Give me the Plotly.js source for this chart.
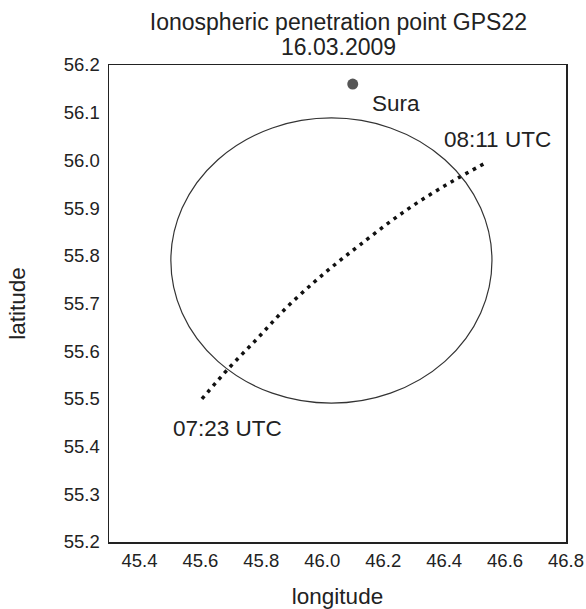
<!DOCTYPE html>
<html>
<head>
<meta charset="utf-8">
<script src="https://cdn.plot.ly/plotly-3.0.1.min.js"></script>
<style>html,body{margin:0;padding:0;background:#fff;}</style>
</head>
<body>
<div id="chart" style="width:586px;height:609px;"></div>
<script>
// Ionospheric penetration point track (longitude, latitude)
const trackLon = [45.605, 45.694, 45.786, 45.874, 45.970, 46.048, 46.124, 46.222, 46.321, 46.429, 46.537];
const trackLat = [55.500, 55.565, 55.626, 55.686, 55.743, 55.785, 55.823, 55.871, 55.915, 55.957, 55.995];
// Sura facility
const suraLon = [46.10];
const suraLat = [56.16];
// Circle bounds (lon0, lon1, lat0, lat1)
const circleLon = [45.503, 46.557];
const circleLat = [55.491, 56.089];
// Labels
const labelText = ["Sura", "08:11 UTC", "07:23 UTC"];
const labelLon = [46.157, 46.393, 45.503];
const labelLat = [56.12, 56.043, 55.437];
const titleLines = ["Ionospheric penetration point GPS22", "16.03.2009"];
const xTicks = [45.4, 45.6, 45.8, 46.0, 46.2, 46.4, 46.6, 46.8];
const yTicks = [55.2, 55.3, 55.4, 55.5, 55.6, 55.7, 55.8, 55.9, 56.0, 56.1, 56.2];

const fam = "Liberation Sans, Arial, sans-serif";
const tickFont = {family: fam, size: 18.5, color: "#222"};
const bigFont = {family: fam, size: 22.5, color: "#222"};
const titleFont = {family: fam, size: 23, color: "#222"};

const data = [
  {x: trackLon, y: trackLat, mode: "lines", type: "scatter",
   line: {color: "#111", width: 3.5, dash: "3.5px,5px", shape: "spline", smoothing: 1}, hoverinfo: "skip"},
  {x: suraLon, y: suraLat, mode: "markers", type: "scatter",
   marker: {color: "#555", size: 11}, hoverinfo: "skip"}
];

const annotations = labelText.map((t, i) => ({
  x: labelLon[i], y: labelLat[i], xref: "x", yref: "y", text: t,
  showarrow: false, xanchor: "left", yanchor: "middle", font: bigFont
}));
annotations.push({
  x: 0.502, y: 1.0377, xref: "paper", yref: "paper", text: titleLines[1],
  showarrow: false, xanchor: "center", yanchor: "middle", font: titleFont
});

const layout = {
  width: 586, height: 609,
  margin: {l: 109, r: 20, t: 65, b: 67},
  paper_bgcolor: "#fff", plot_bgcolor: "#fff",
  showlegend: false,
  font: tickFont,
  title: {text: titleLines[0], font: titleFont,
          xref: "paper", x: 0.502, xanchor: "center",
          yref: "container", y: 0.9639, yanchor: "middle"},
  xaxis: {range: [45.3, 46.8], tickvals: xTicks, ticktext: xTicks.map(v => v.toFixed(1)),
          showgrid: false, zeroline: false, showline: true, mirror: true,
          linecolor: "#222", linewidth: 1.5, ticks: "", tickfont: tickFont, ticklabelstandoff: 1,
          title: {text: "longitude", font: bigFont, standoff: 18}},
  yaxis: {range: [55.2, 56.2], tickvals: yTicks, ticktext: yTicks.map(v => v.toFixed(1)),
          showgrid: false, zeroline: false, showline: true, mirror: true,
          linecolor: "#222", linewidth: 1.5, ticks: "", tickfont: tickFont, ticklabelstandoff: 4,
          title: {text: "latitude", font: bigFont, standoff: 32}},
  shapes: [{type: "circle", xref: "x", yref: "y",
            x0: circleLon[0], x1: circleLon[1], y0: circleLat[0], y1: circleLat[1],
            line: {color: "#333", width: 1.2}}],
  annotations: annotations
};

Plotly.newPlot("chart", data, layout, {displayModeBar: false, staticPlot: true});
</script>
</body>
</html>
